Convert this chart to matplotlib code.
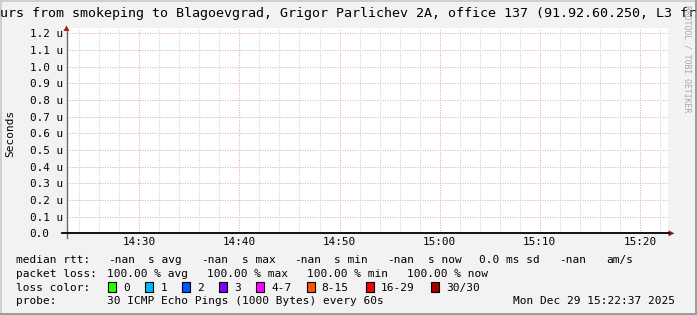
import numpy as np
import matplotlib
matplotlib.use("Agg")
import matplotlib.pyplot as plt
from matplotlib.patches import Rectangle, Polygon
from matplotlib.lines import Line2D

# ---------------- data ----------------
title = ("Last 1 Hours from smokeping to Blagoevgrad, Grigor Parlichev 2A, "
         "office 137 (91.92.60.250, L3 from Sofia)")
y_ticks = [0.0, 0.1, 0.2, 0.3, 0.4, 0.5, 0.6, 0.7, 0.8, 0.9, 1.0, 1.1, 1.2]  # micro-seconds
y_tick_labels = ["0.0", "0.1 u", "0.2 u", "0.3 u", "0.4 u", "0.5 u", "0.6 u",
                 "0.7 u", "0.8 u", "0.9 u", "1.0 u", "1.1 u", "1.2 u"]
x_major_min = [30, 40, 50, 60, 70, 80]          # minutes after 14:00
x_major_labels = ["14:30", "14:40", "14:50", "15:00", "15:10", "15:20"]
x_minor_min = list(range(24, 83, 2))
rtt_times = [23, 83]                             # median rtt: no data (all nan)
rtt_values = [np.nan, np.nan]

median_items = ["median rtt:", "-nan", "s avg", "-nan", "s max", "-nan", "s min",
                "-nan", "s now", "0.0 ms sd", "-nan", "am/s"]
loss_items = ["packet loss:", "100.00 % avg", "100.00 % max", "100.00 % min", "100.00 % now"]
loss_labels = ["0", "1", "2", "3", "4-7", "8-15", "16-29", "30/30"]
loss_colors = ["#26ff00", "#00b8ff", "#0059ff", "#7e00ff", "#ff00ff",
               "#ff5500", "#ff0000", "#a10000"]
probe_items = ["probe:", "30 ICMP Echo Pings (1000 Bytes) every 60s"]
timestamp = "Mon Dec 29 15:22:37 2025"

# ---------------- layout ----------------
W, H = 697, 315
fig = plt.figure(figsize=(W / 100, H / 100), dpi=100)
fig.patch.set_facecolor("#f2f2f2")
MONO = "DejaVu Sans Mono"

def fx(x):
    return x / W

def fy(y):
    return 1 - y / H

# frame shading
fig.add_artist(Rectangle((0, fy(2)), 1, 2 / H, transform=fig.transFigure, color="#cfcfcf", lw=0))
fig.add_artist(Rectangle((0, 0), 2 / W, 1, transform=fig.transFigure, color="#cfcfcf", lw=0))
fig.add_artist(Rectangle((0, 0), 1, 2 / H, transform=fig.transFigure, color="#9c9c9c", lw=0))
fig.add_artist(Rectangle((fx(W - 2), 0), 2 / W, 1, transform=fig.transFigure, color="#9c9c9c", lw=0))

L, R, T, B = 66.5, 667.5, 28.0, 233.3
ax = fig.add_axes([fx(L), fy(B), fx(R) - fx(L), (B - T) / H])
ax.set_facecolor("white")
ax.set_xlim(22.72, 82.77)
ax.set_ylim(0, 1.2 + (33.3 - T) / 166.7)
ax.plot(rtt_times, rtt_values, color="#00cc00")
for s in ax.spines.values():
    s.set_visible(False)

ax.set_yticks(y_ticks)
ax.set_yticklabels(y_tick_labels, fontsize=7.9, family=MONO, ha="left")
ax.tick_params(axis="y", length=0, pad=26.6)
ax.set_xticks(x_major_min)
ax.set_xticklabels(x_major_labels, fontsize=7.9, family=MONO)
ax.set_xticks(x_minor_min, minor=True)
ax.tick_params(axis="x", which="both", length=0, pad=3.0)

dot = (0, (1.0, 1.4))
for v in y_ticks[1:]:
    ax.axhline(v, color="#eaa9a9", lw=0.75, ls=dot, zorder=1)
for m in x_minor_min:
    if m not in x_major_min:
        ax.axvline(m, color="#cfcfcf", lw=0.75, ls=dot, zorder=1)
for m in x_major_min:
    ax.axvline(m, color="#eaa9a9", lw=0.75, ls=dot, zorder=1)

# axes lines and arrows
fig.add_artist(Line2D([fx(66.5), fx(66.5)], [fy(238), fy(30)], transform=fig.transFigure,
                      color="#6a6a6a", lw=1.0))
fig.add_artist(Line2D([fx(62), fx(669)], [fy(233.3), fy(233.3)], transform=fig.transFigure,
                      color="black", lw=1.3))
fig.add_artist(Polygon([(fx(63.5), fy(31)), (fx(69.5), fy(31)), (fx(66.5), fy(25.5))],
                       closed=True, transform=fig.transFigure, color="#9b1a1a", lw=0))
fig.add_artist(Polygon([(fx(668.5), fy(230.3)), (fx(668.5), fy(236.3)), (fx(674.5), fy(233.3))],
                       closed=True, transform=fig.transFigure, color="#9b1a1a", lw=0))

# texts
fig.text(fx(W / 2), fy(17.5), title, family=MONO, fontsize=9.6, ha="center", va="baseline")
fig.text(fx(10.5), fy(133), "Seconds", family=MONO, fontsize=8, rotation=90,
         ha="center", va="center")
fig.text(fx(686.5), fy(5), "RRDTOOL / TOBI OETIKER", family=MONO, fontsize=5.9,
         rotation=270, ha="center", va="top", color="#a8a8a8")

fs = 8.0
row1, row2, row3, row4 = 263.3, 277.0, 290.7, 304.4
med_x = [16, 108.3, 148.3, 201, 241.7, 294, 334, 386.7, 428.3, 479.3, 559.3, 606.7]
for t, x in zip(median_items, med_x):
    fig.text(fx(x), fy(row1), t, family=MONO, fontsize=fs, va="baseline")
loss_x = [16, 107.3, 207.3, 307, 406.7]
for t, x in zip(loss_items, loss_x):
    fig.text(fx(x), fy(row2), t, family=MONO, fontsize=fs, va="baseline")
fig.text(fx(16), fy(row3), "loss color:", family=MONO, fontsize=fs, va="baseline")
box_x = [108.3, 145.3, 182.3, 219.3, 256.3, 306.7, 365.7, 431]
for lab, col, x in zip(loss_labels, loss_colors, box_x):
    fig.add_artist(Rectangle((fx(x), fy(292)), 8 / W, 10 / H, transform=fig.transFigure,
                             facecolor=col, edgecolor="black", lw=0.8))
    fig.text(fx(x + 15), fy(row3), lab, family=MONO, fontsize=fs, va="baseline")
fig.text(fx(16), fy(row4), probe_items[0], family=MONO, fontsize=fs, va="baseline")
fig.text(fx(107.3), fy(row4), probe_items[1], family=MONO, fontsize=fs, va="baseline")
fig.text(fx(513.3), fy(row4), timestamp, family=MONO, fontsize=fs, va="baseline")

fig.savefig("out.png", dpi=100, facecolor=fig.get_facecolor())
